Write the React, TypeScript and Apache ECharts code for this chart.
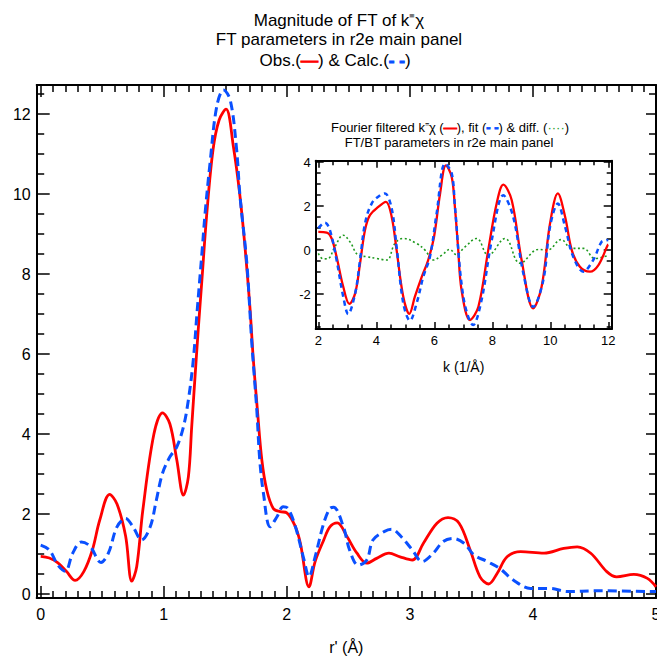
import React, { useEffect, useRef } from "react";
import * as echarts from "echarts";

// ---- Main panel: |FT| vs r' ----
const obsR = [0.0, 0.07, 0.14, 0.21, 0.28, 0.35, 0.42, 0.48, 0.56, 0.62, 0.69, 0.74, 0.78, 0.83, 0.92, 0.99, 1.05, 1.106, 1.16, 1.2, 1.227, 1.254, 1.28, 1.31, 1.35, 1.4, 1.45, 1.506, 1.566, 1.62, 1.66, 1.7, 1.728, 1.761, 1.797, 1.837, 1.89, 1.946, 2.0, 2.07, 2.11, 2.18, 2.23, 2.3, 2.35, 2.41, 2.49, 2.57, 2.65, 2.73, 2.83, 2.92, 3.02, 3.11, 3.22, 3.31, 3.4, 3.49, 3.57, 3.64, 3.71, 3.79, 3.9, 4.09, 4.25, 4.36, 4.47, 4.6, 4.68, 4.82, 4.93, 5.0];
const obsVal = [0.94, 0.9, 0.78, 0.56, 0.34, 0.56, 1.1, 1.85, 2.49, 2.25, 1.45, 0.32, 0.68, 2.1, 4.0, 4.53, 4.25, 3.35, 2.47, 2.93, 4.18, 5.43, 6.6, 7.85, 9.52, 11.1, 11.85, 12.12, 11.18, 9.93, 8.68, 7.18, 5.85, 4.6, 3.35, 2.6, 2.14, 2.06, 2.03, 1.68, 1.27, 0.18, 0.81, 1.35, 1.68, 1.78, 1.43, 1.02, 0.77, 0.89, 1.02, 0.93, 0.85, 1.27, 1.77, 1.91, 1.77, 1.1, 0.43, 0.25, 0.52, 0.93, 1.06, 1.02, 1.14, 1.18, 1.02, 0.56, 0.43, 0.49, 0.39, 0.18];
const calcR = [0.0, 0.07, 0.14, 0.2, 0.26, 0.33, 0.4, 0.49, 0.55, 0.62, 0.69, 0.75, 0.82, 0.89, 0.94, 0.99, 1.05, 1.106, 1.16, 1.2, 1.24, 1.27, 1.31, 1.336, 1.376, 1.43, 1.485, 1.54, 1.59, 1.62, 1.675, 1.715, 1.756, 1.78, 1.81, 1.864, 1.92, 1.97, 2.01, 2.07, 2.14, 2.18, 2.23, 2.3, 2.35, 2.38, 2.46, 2.51, 2.58, 2.65, 2.7, 2.79, 2.85, 2.93, 3.02, 3.1, 3.19, 3.27, 3.35, 3.44, 3.52, 3.63, 3.73, 3.84, 3.98, 4.14, 4.28, 4.52, 5.0];
const calcVal = [1.22, 1.1, 0.72, 0.57, 1.02, 1.3, 1.2, 0.79, 1.02, 1.68, 1.89, 1.68, 1.35, 1.68, 2.35, 3.02, 3.43, 3.68, 4.18, 4.85, 5.85, 7.02, 8.52, 9.52, 10.77, 12.18, 12.6, 12.35, 11.18, 9.93, 8.27, 6.3, 4.6, 3.35, 2.52, 1.68, 1.93, 2.18, 2.14, 1.68, 0.85, 0.43, 0.93, 1.77, 2.14, 2.17, 1.68, 1.1, 0.72, 0.85, 1.35, 1.56, 1.62, 1.43, 1.1, 0.81, 1.02, 1.31, 1.39, 1.27, 0.98, 0.81, 0.64, 0.35, 0.14, 0.14, 0.06, 0.08, 0.06];

// ---- Inset: Fourier filtered k-space ----
const kObs = [2.0, 2.29, 2.46, 2.63, 2.86, 3.07, 3.27, 3.44, 3.61, 3.78, 4.07, 4.33, 4.53, 4.7, 4.93, 5.14, 5.33, 5.57, 5.79, 5.99, 6.2, 6.4, 6.6, 6.71, 6.82, 6.94, 7.23, 7.52, 7.86, 8.15, 8.38, 8.67, 9.01, 9.41, 9.7, 9.99, 10.26, 10.51, 10.74, 11.02, 11.37, 11.66, 11.98, 12.0];
const chiObs = [0.83, 0.8, 0.53, -0.3, -1.67, -2.45, -1.97, -0.6, 0.91, 1.59, 1.97, 2.2, 1.52, 0.0, -2.12, -2.9, -2.12, -1.21, -0.45, 0.6, 2.58, 3.86, 3.33, 1.97, 0.1, -1.82, -3.18, -2.58, 0.0, 2.12, 2.98, 2.27, -0.45, -2.65, -1.67, 1.21, 2.58, 1.52, 0.0, -0.76, -0.98, -0.68, 0.23, 0.25];
const kFit = [2.0, 2.23, 2.4, 2.63, 2.86, 3.03, 3.27, 3.44, 3.61, 3.84, 4.13, 4.3, 4.53, 4.7, 4.93, 5.16, 5.39, 5.62, 5.85, 6.08, 6.37, 6.6, 6.71, 7.0, 7.34, 7.63, 7.98, 8.38, 8.72, 9.07, 9.41, 9.76, 9.99, 10.26, 10.51, 10.79, 11.14, 11.48, 11.77, 11.94, 12.0];
const chiFit = [1.0, 1.25, 0.91, -0.45, -2.12, -2.91, -1.97, -0.45, 1.21, 2.12, 2.5, 2.58, 1.89, 0.15, -2.42, -3.21, -2.42, -1.21, -0.3, 1.67, 3.94, 3.5, 2.0, -2.12, -3.41, -2.27, 0.45, 2.5, 1.52, -1.06, -2.58, -1.36, 1.06, 2.12, 1.06, -0.3, -0.98, -0.45, 0.38, 0.45, 0.46];
const kDiff = [2.0, 2.17, 2.34, 2.57, 2.86, 3.09, 3.38, 3.67, 4.01, 4.36, 4.64, 4.93, 5.39, 5.68, 5.97, 6.26, 6.54, 6.75, 7.06, 7.46, 7.86, 8.44, 8.96, 9.59, 9.9, 10.37, 10.74, 11.14, 11.54, 11.94, 12.0];
const chiDiff = [-0.15, -0.4, -0.38, 0.15, 0.68, 0.38, -0.23, -0.3, -0.38, -0.45, 0.3, 0.53, 0.3, 0.0, -0.45, -0.23, 0.03, -0.2, 0.15, 0.53, -0.23, 0.53, -0.6, 0.03, 0.0, 0.48, 0.08, 0.08, -0.38, -0.27, -0.25];

// axis ranges (frame edges)
const mainXRange = [-0.0325, 5];
const mainYRange = [-0.1, 12.725];
const insetXRange = [1.91, 12.117];
const insetYRange = [-3.59, 4.07];

const FONT = "Liberation Sans, Arial, Helvetica, sans-serif";
const RED = "#ff0000";
const BLUE = "#0a50ff";
const GREEN = "#1f9a1f";

const pairs = (xs: number[], ys: number[]) => xs.map((x, i) => [x, ys[i]]);

function makeAxis(o: any) {
  return {
    type: "value",
    gridIndex: o.grid,
    position: o.position,
    min: o.range[0],
    max: o.range[1],
    minInterval: o.interval,
    maxInterval: o.interval,
    name: o.name,
    nameLocation: "middle",
    nameGap: o.nameGap,
    nameTextStyle: { fontFamily: FONT, fontSize: o.nameSize, color: "#000" },
    axisLine: { show: true, onZero: false, lineStyle: { color: "#000", width: 2 } },
    axisTick: { show: true, inside: true, length: o.major, lineStyle: { color: "#000", width: 1.5 } },
    minorTick: { show: true, splitNumber: o.split, length: o.minor, lineStyle: { color: "#000", width: 1.5 } },
    splitLine: { show: false },
    axisLabel: {
      show: !!o.labels,
      fontFamily: FONT,
      fontSize: o.fontSize,
      color: "#000",
      margin: o.margin,
      showMinLabel: o.showMin === true,
      showMaxLabel: o.showMax === true,
    },
  };
}

export default function App() {
  const ref = useRef<HTMLDivElement>(null);
  useEffect(() => {
    const chart = echarts.init(ref.current!, null, { renderer: "svg" });
    const option: any = {
      animation: false,
      backgroundColor: "#fff",
      grid: [
        { left: 36.7, top: 85, right: 1, bottom: 60, containLabel: false, outerBoundsMode: "none" },
        { left: 315.7, top: 160.7, right: 45.3, bottom: 329, containLabel: false, outerBoundsMode: "none" },
      ],
      xAxis: [
        makeAxis({ grid: 0, position: "bottom", range: mainXRange, interval: 1, split: 10, major: 12, minor: 7, labels: true, fontSize: 16, margin: 8, showMax: true, name: "r' (Å)", nameGap: 41, nameSize: 16 }),
        makeAxis({ grid: 0, position: "top", range: mainXRange, interval: 1, split: 10, major: 12, minor: 7 }),
        makeAxis({ grid: 1, position: "bottom", range: insetXRange, interval: 2, split: 4, major: 7, minor: 4.5, labels: true, fontSize: 13, margin: 5, name: "k (1/Å)", nameGap: 31, nameSize: 14 }),
        makeAxis({ grid: 1, position: "top", range: insetXRange, interval: 2, split: 4, major: 7, minor: 4.5 }),
      ],
      yAxis: [
        makeAxis({ grid: 0, position: "left", range: mainYRange, interval: 2, split: 4, major: 13, minor: 7.5, labels: true, fontSize: 16, margin: 6 }),
        makeAxis({ grid: 0, position: "right", range: mainYRange, interval: 2, split: 4, major: 10, minor: 7 }),
        makeAxis({ grid: 1, position: "left", range: insetYRange, interval: 2, split: 4, major: 8, minor: 5, labels: true, fontSize: 13, margin: 5 }),
        makeAxis({ grid: 1, position: "right", range: insetYRange, interval: 2, split: 4, major: 8, minor: 5 }),
      ],
      series: [
        { type: "line", name: "Obs.", xAxisIndex: 0, yAxisIndex: 0, data: pairs(obsR, obsVal), smooth: 0.35, showSymbol: false, symbol: "none", lineStyle: { color: RED, width: 2.8 } },
        { type: "line", name: "Calc.", xAxisIndex: 0, yAxisIndex: 0, data: pairs(calcR, calcVal), smooth: 0.35, showSymbol: false, symbol: "none", lineStyle: { color: BLUE, width: 3, type: [9, 5] } },
        { type: "line", name: "diff.", xAxisIndex: 2, yAxisIndex: 2, data: pairs(kDiff, chiDiff), smooth: 0.4, showSymbol: false, symbol: "none", lineStyle: { color: GREEN, width: 1.6, type: [2, 2.5] } },
        { type: "line", name: "Fourier filtered", xAxisIndex: 2, yAxisIndex: 2, data: pairs(kObs, chiObs), smooth: 0.35, showSymbol: false, symbol: "none", lineStyle: { color: RED, width: 2.3 } },
        { type: "line", name: "fit", xAxisIndex: 2, yAxisIndex: 2, data: pairs(kFit, chiFit), smooth: 0.35, showSymbol: false, symbol: "none", lineStyle: { color: BLUE, width: 2.5, type: [5, 4] } },
      ],
      graphic: [
        { type: "text", x: 339, y: 20.7, style: { text: "Magnitude of FT of k⁼χ", fontSize: 17, fontFamily: FONT, fill: "#000", align: "center", verticalAlign: "middle" } },
        { type: "text", x: 339, y: 39.7, style: { text: "FT parameters in r2e main panel", fontSize: 17, fontFamily: FONT, fill: "#000", align: "center", verticalAlign: "middle" } },
        {
          type: "text", x: 335, y: 60,
          style: {
            text: "{t|Obs.(}{r|—}{t|) & Calc.(}{b|- -}{t|)}",
            align: "center", verticalAlign: "middle",
            fontSize: 17, fontFamily: FONT, fill: "#000",
            rich: {
              t: { fontSize: 17, fontFamily: FONT, fill: "#000" },
              r: { fontSize: 17, fontFamily: FONT, fill: RED, stroke: RED, lineWidth: 1.3 },
              b: { fontSize: 17, fontFamily: FONT, fontWeight: "bold", fill: BLUE, stroke: BLUE, lineWidth: 1 },
            },
          },
        },
        {
          type: "text", x: 450, y: 127.2,
          style: {
            text: "{t|Fourier filtered k⁼χ (}{r|—}{t|), fit (}{b|- -}{t|) & diff. (}{g|····}{t|)}",
            align: "center", verticalAlign: "middle",
            fontSize: 13, fontFamily: FONT, fill: "#000",
            rich: {
              t: { fontSize: 13, fontFamily: FONT, fill: "#000" },
              r: { fontSize: 13, fontFamily: FONT, fill: RED, stroke: RED, lineWidth: 1.1 },
              b: { fontSize: 13, fontFamily: FONT, fontWeight: "bold", fill: BLUE, stroke: BLUE, lineWidth: 0.8 },
              g: { fontSize: 13, fontFamily: FONT, fill: GREEN },
            },
          },
        },
        { type: "text", x: 449, y: 142.2, style: { text: "FT/BT parameters in r2e main panel", fontSize: 13, fontFamily: FONT, fill: "#000", align: "center", verticalAlign: "middle" } },
      ],
    };
    chart.setOption(option);
    return () => chart.dispose();
  }, []);
  return <div ref={ref} style={{ position: "absolute", left: 0, top: 0, width: 657, height: 658 }} />;
}
